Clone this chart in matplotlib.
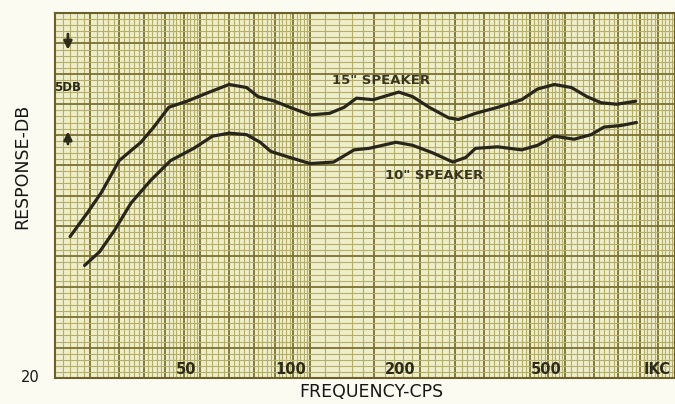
import numpy as np
import matplotlib
matplotlib.use("Agg")
import matplotlib.pyplot as plt
import matplotlib.transforms as mtransforms

# response curves (frequency in cps, response in dB, arbitrary zero)
freq_15 = [22, 24.6, 26.8, 30, 34.4, 37.3, 41, 46, 53, 60, 67, 72, 80, 88, 100, 113,
           124, 134, 149, 175, 191, 212, 240, 255, 284, 327, 380, 420, 467, 520, 574,
           627, 692, 780]
db_15 = [9.3, 10.9, 12.2, 14.3, 15.5, 16.5, 17.8, 18.2, 18.8, 19.3, 19.1, 18.5, 18.2,
         17.8, 17.3, 17.4, 17.8, 18.4, 18.3, 18.8, 18.5, 17.8, 17.1, 17.0, 17.4, 17.8,
         18.3, 19.0, 19.3, 19.1, 18.5, 18.1, 18.0, 18.2]

freq_10 = [24.1, 26.5, 29.1, 32.3, 36.6, 41.5, 48, 54, 60, 67, 73, 78, 88, 100, 116,
           132, 145, 172, 191, 217, 246, 267, 284, 327, 380, 420, 467, 529, 589, 639,
           710, 784]
db_10 = [7.4, 8.3, 9.7, 11.5, 13.0, 14.3, 15.1, 15.9, 16.1, 16.0, 15.5, 14.9, 14.5,
         14.1, 14.2, 15.0, 15.1, 15.5, 15.3, 14.8, 14.2, 14.5, 15.1, 15.2, 15.0, 15.3,
         15.9, 15.7, 16.0, 16.5, 16.6, 16.8]

freq_labels = [50, 100, 200, 500, 1000]
freq_label_text = ["50", "100", "200", "500", "IKC"]

# graph paper rulings
paper_major_x = [20, 25, 30, 35, 40, 45, 50, 60, 70, 80, 90, 100, 150, 200, 250, 300,
                 350, 400, 450, 500, 600, 700, 800, 900, 1000]
paper_major_y = np.arange(0, 25, 2)

fig = plt.figure(figsize=(6.75, 4.04), dpi=100)
fig.patch.set_facecolor("#fbfbf2")
ax = fig.add_axes([55 / 675, 26 / 404, 620 / 675, 365 / 404])
ax.set_facecolor("#eeeecb")

ax.set_xscale("log")
ax.set_xlim(20, 957)
ax.set_ylim(0, 24)

# minor rulings: 5 per major cell
minor_x = []
for a, b in zip(paper_major_x[:-1], paper_major_x[1:]):
    minor_x += list(np.linspace(a, b, 6)[1:-1])
ax.set_xticks(paper_major_x)
ax.set_xticks(minor_x, minor=True)
ax.set_yticks(paper_major_y)
ax.set_yticks(np.arange(0, 24.01, 0.4), minor=True)
ax.tick_params(which="both", length=0, labelbottom=False, labelleft=False)
ax.grid(which="major", color="#7c7030", lw=1.3)
ax.grid(which="minor", color="#b4ae68", lw=0.8)
ax.set_axisbelow(True)
for s in ax.spines.values():
    s.set_color("#6a6028")
    s.set_linewidth(1.5)

ax.plot(freq_15, db_15, color="#28261a", lw=2.3, solid_capstyle="round")
ax.plot(freq_10, db_10, color="#28261a", lw=2.3, solid_capstyle="round")

# frequency figures printed on the paper
trans = mtransforms.blended_transform_factory(ax.transData, ax.transAxes)
for f, t in zip(freq_labels, freq_label_text):
    ax.text(f * 0.975, 0.004, t, transform=trans, ha="right", va="bottom",
            fontsize=10.5, fontweight="bold", color="#2c2a18", clip_on=False)

ax.text((381 - 55) / 620, 0.815, '15" SPEAKER', transform=ax.transAxes,
        fontsize=9.5, fontweight="bold", color="#3a3520", ha="center", va="center")
ax.text((434 - 55) / 620, 0.556, '10" SPEAKER', transform=ax.transAxes,
        fontsize=9.5, fontweight="bold", color="#3a3520", ha="center", va="center")

# 5 dB scale marker
ax.text(0.02, 0.795, "5DB", transform=ax.transAxes, fontsize=8.5,
        fontweight="bold", color="#2c2a18", ha="center", va="center")
ax.annotate("", xy=(21.7, 21.4), xytext=(21.7, 22.8),
            arrowprops=dict(arrowstyle="-|>", color="#2c2a18", lw=2,
                            mutation_scale=12))
ax.annotate("", xy=(21.7, 16.4), xytext=(21.7, 15.2),
            arrowprops=dict(arrowstyle="-|>", color="#2c2a18", lw=2,
                            mutation_scale=12))

fig.text(22 / 675, 1 - 166 / 404, "RESPONSE-DB", rotation=90, ha="center",
         va="center", fontsize=12.5, color="#151515")
fig.text(371 / 675, 1 - 392 / 404, "FREQUENCY-CPS", ha="center", va="center",
         fontsize=12.5, color="#151515")
fig.text(30 / 675, 1 - 377 / 404, "20", ha="center", va="center",
         fontsize=10.5, color="#151515")

fig.savefig("out.png", dpi=100, facecolor=fig.get_facecolor())
